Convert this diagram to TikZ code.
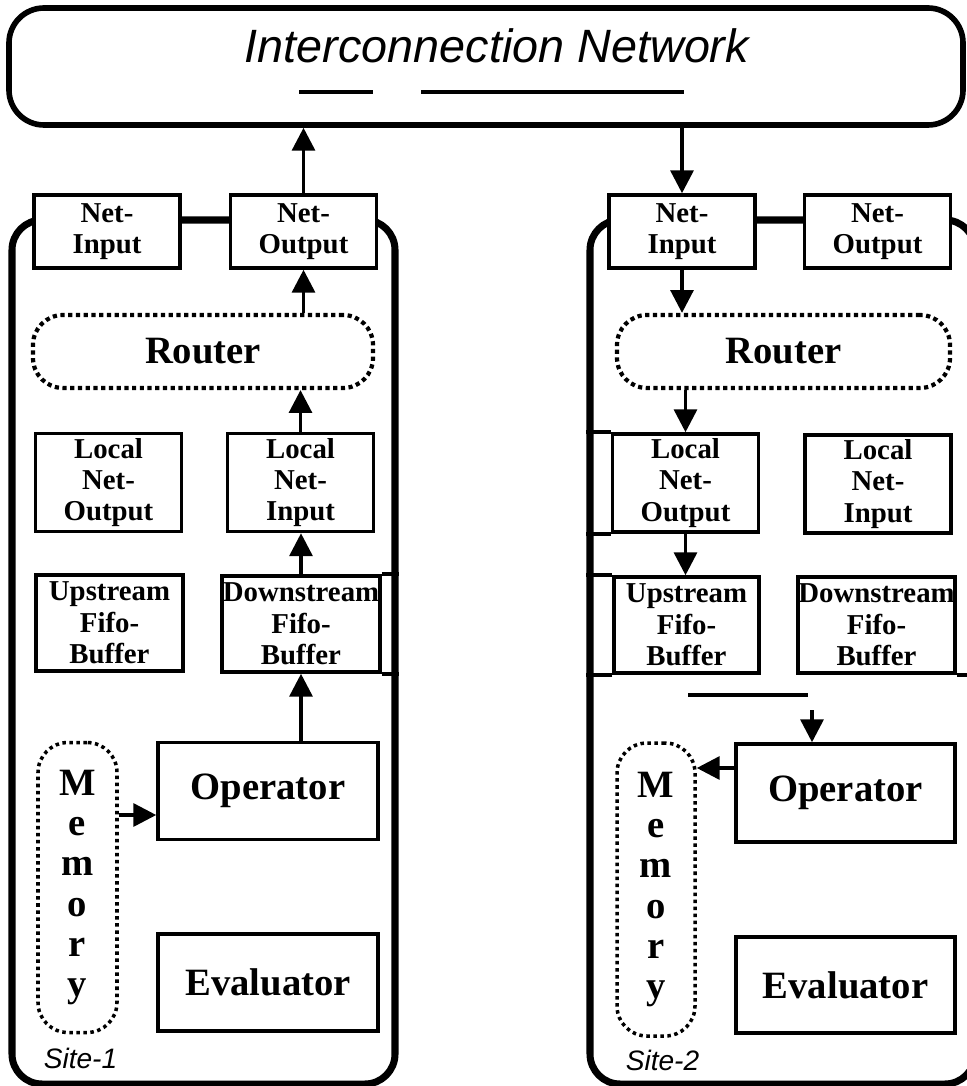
\documentclass[tikz,border=0pt]{standalone}
\usepackage{fontspec}
\setmainfont{Liberation Serif}
\setsansfont{Liberation Sans}
\usetikzlibrary{positioning,calc,arrows.meta}

\begin{document}
\begin{tikzpicture}[
    sitebox/.style={rectangle, rounded corners=0.3cm, draw, line width=2pt},
    netbox/.style={rectangle, rounded corners=0.35cm, draw, line width=1.6pt, minimum width=9.54cm, minimum height=1.17cm},
    unit/.style={rectangle, draw, fill=white, line width=1pt, inner sep=0pt, align=center, font=\bfseries\fontsize{8.2}{8.9}\selectfont},
    netunit/.style={unit, minimum width=1.46cm, minimum height=0.73cm},
    localunit/.style={unit, minimum width=1.46cm, minimum height=0.98cm},
    fifounit/.style={unit, minimum width=1.47cm, minimum height=0.96cm},
    bigunit/.style={unit, minimum width=2.2cm, minimum height=0.97cm, font=\bfseries\fontsize{11}{13}\selectfont},
    routerbox/.style={rectangle, rounded corners=0.3cm, draw, densely dotted, line width=1.2pt, minimum width=3.4cm, minimum height=0.73cm, font=\bfseries\fontsize{11}{13}\selectfont},
    memorybox/.style={rectangle, rounded corners=0.3cm, draw, densely dotted, line width=1pt, minimum width=0.79cm, minimum height=2.9cm, align=center, font=\bfseries\fontsize{11}{11.4}\selectfont},
    flow/.style={-{Triangle[length=6.5pt,width=6.5pt]}, line width=1pt},
    stub/.style={line width=1pt},
    nettitle/.style={font=\sffamily\itshape\fontsize{13.3}{16}\selectfont},
    sitetitle/.style={font=\sffamily\itshape\fontsize{8}{10}\selectfont}
]

% === LAYOUT ===
% page 9.66 x 10.86, origin top left, y grows downward (negative)
% Network: y=-0.67, site units: net row -2.32, router -3.52, local -4.83, fifo -6.24
% Operator -7.92, Evaluator -9.84, Memory column centred at -8.89
\useasboundingbox (0,0) rectangle (9.66,-10.86);

% Interconnection Network
\node[netbox] (net-box) at (4.86,-0.665) {};
\node[nettitle] (net-title) at (4.97,-0.46) {Interconnection Network};
\draw[stub, line width=1.2pt] (2.99,-0.92) -- (3.73,-0.92);
\draw[stub, line width=1.2pt] (4.21,-0.92) -- (6.84,-0.92);

% Site frames
\node[sitebox, minimum width=3.83cm, minimum height=8.64cm] (site1) at (2.035,-6.52) {};
\node[sitebox, minimum width=3.85cm, minimum height=8.64cm] (site2) at (7.825,-6.52) {};

% Site 1 Section
\node[netunit] (site1-netin) at (1.07,-2.315) {Net-\\Input};
\node[netunit, right=0.47cm of site1-netin] (site1-netout) {Net-\\Output};
\node[routerbox] (site1-router) at (2.03,-3.515) {Router};
\node[localunit] (site1-locout) at (1.085,-4.825) {Local\\Net-\\Output};
\node[localunit] (site1-locin) at (3.005,-4.825) {Local\\Net-\\Input};
\node[fifounit] (site1-upfifo) at (1.095,-6.23) {Upstream\\Fifo-\\Buffer};
\node[fifounit, minimum width=1.58cm] (site1-downfifo) at (3.01,-6.24) {Downstream\\Fifo-\\Buffer};
\node[bigunit] (site1-operator) at (2.68,-7.91) {Operator};
\node[memorybox] (site1-memory) at (0.775,-8.875) {M\\e\\m\\o\\r\\y};
\node[bigunit] (site1-evaluator) at (2.68,-9.825) {Evaluator};
\node[sitetitle] (site1-title) at (0.805,-10.58) {Site-1};

\draw[stub] (site1-downfifo.north east) -- (site1-downfifo.north east -| site1.east);
\draw[stub] (site1-downfifo.south east) -- (site1-downfifo.south east -| site1.east);

% Site 1 flow: memory -> operator -> fifo -> router -> network
\draw[flow] ($(site1-memory.east |- site1-operator.west)+(0,-0.24)$) -- ($(site1-operator.west)+(0,-0.24)$);
\draw[flow] (site1-downfifo.south |- site1-operator.north) -- (site1-downfifo.south);
\draw[flow] (site1-downfifo.north) -- (site1-downfifo.north |- site1-locin.south);
\draw[flow] (site1-locin.north) -- (site1-locin.north |- site1-router.south);
\draw[flow] (site1-router.north -| site1-netout.south) -- (site1-netout.south);
\draw[flow] (site1-netout.north) -- (site1-netout.north |- net-box.south);

% Site 2 Section
\node[netunit] (site2-netin) at (6.82,-2.315) {Net-\\Input};
\node[netunit, right=0.46cm of site2-netin] (site2-netout) {Net-\\Output};
\node[routerbox, minimum width=3.33cm] (site2-router) at (7.835,-3.515) {Router};
\node[localunit] (site2-locout) at (6.855,-4.83) {Local\\Net-\\Output};
\node[localunit] (site2-locin) at (8.78,-4.84) {Local\\Net-\\Input};
\node[fifounit, minimum width=1.45cm] (site2-upfifo) at (6.865,-6.25) {Upstream\\Fifo-\\Buffer};
\node[fifounit, minimum width=1.57cm] (site2-downfifo) at (8.765,-6.25) {Downstream\\Fifo-\\Buffer};
\node[bigunit, minimum width=2.19cm, minimum height=0.98cm] (site2-operator) at (8.455,-7.93) {Operator};
\node[memorybox, minimum width=0.78cm, minimum height=2.93cm] (site2-memory) at (6.56,-8.895) {M\\e\\m\\o\\r\\y};
\node[bigunit, minimum width=2.19cm, minimum height=0.96cm] (site2-evaluator) at (8.455,-9.85) {Evaluator};
\node[sitetitle] (site2-title) at (6.625,-10.6) {Site-2};

\draw[stub] (site2-locout.north west) -- (site2-locout.north west -| site2.west);
\draw[stub] (site2-locout.south west) -- (site2-locout.south west -| site2.west);
\draw[stub] (site2-upfifo.north west) -- (site2-upfifo.north west -| site2.west);
\draw[stub] (site2-upfifo.south west) -- (site2-upfifo.south west -| site2.west);
\draw[stub] (site2-downfifo.south east) -- (site2-downfifo.south east -| site2.east);

% Site 2 flow: network -> router -> fifo -> operator -> memory
\coordinate (site2-split) at (6.88,-6.95);
\coordinate (site2-join) at (8.08,-6.95);
\coordinate (site2-feed) at (8.12,-7.10);
\draw[flow] (net-box.south -| site2-netin.north) -- (site2-netin.north);
\draw[flow] (site2-netin.south) -- (site2-netin.south |- site2-router.north);
\draw[flow] (site2-locout.north |- site2-router.south) -- (site2-locout.north);
\draw[flow] (site2-locout.south) -- (site2-locout.south |- site2-upfifo.north);
\draw[stub, line width=1.2pt] (site2-split) -- (site2-join);
\draw[flow] (site2-feed) -- (site2-feed |- site2-operator.north);
\draw[flow] ($(site2-operator.west)+(0,0.25)$) -- ($(site2-memory.east |- site2-operator.west)+(0,0.25)$);

\end{tikzpicture}
\end{document}
